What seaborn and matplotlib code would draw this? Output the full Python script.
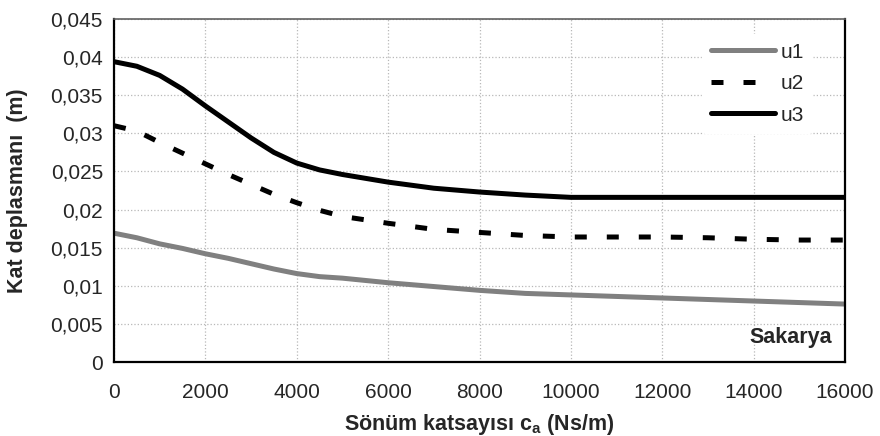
import matplotlib
matplotlib.use('Agg')
import matplotlib.pyplot as plt
from matplotlib.lines import Line2D
from matplotlib.ticker import FuncFormatter
import numpy as np
import pandas as pd
import seaborn as sns

# Values
damping = [0, 500, 1000, 1500, 2000, 2500, 3000, 3500, 4000, 4500, 5000,
           6000, 7000, 8000, 9000, 10000, 11000, 12000, 13000, 14000, 15000, 16000]
u1 = [0.0169, 0.0163, 0.0155, 0.0149, 0.0142, 0.0136, 0.0129, 0.0122, 0.0116,
      0.0112, 0.0110, 0.0104, 0.0099, 0.0094, 0.0090, 0.0088, 0.0086, 0.0084,
      0.0082, 0.0080, 0.0078, 0.0076]
u2 = [0.0310, 0.0303, 0.0288, 0.0274, 0.0260, 0.0246, 0.0233, 0.0220, 0.0209,
      0.0199, 0.0191, 0.0182, 0.0174, 0.0170, 0.0166, 0.0164, 0.0164, 0.0164,
      0.0163, 0.0161, 0.0160, 0.0160]
u3 = [0.0394, 0.0388, 0.0376, 0.0358, 0.0336, 0.0315, 0.0294, 0.0275, 0.0261,
      0.0252, 0.0246, 0.0236, 0.0228, 0.0223, 0.0219, 0.0216, 0.0216, 0.0216,
      0.0216, 0.0216, 0.0216, 0.0216]

df = pd.DataFrame({'c': damping, 'u1': u1, 'u2': u2, 'u3': u3})
long_df = df.melt(id_vars='c', var_name='seri', value_name='u')

sns.set_style('white')
plt.rcParams['font.family'] = ['Liberation Sans', 'DejaVu Sans']

fig = plt.figure(figsize=(8.8, 4.36), dpi=100)
ax = fig.add_axes([114 / 880, 74 / 436, 731 / 880, 343 / 436])

colors = {'u1': '#808080', 'u2': 'black', 'u3': 'black'}
dash = [2.4, 4.0]
sns.lineplot(data=long_df, x='c', y='u', hue='seri', palette=colors,
             linewidth=3.6, ax=ax, legend=False)
ax.lines[1].set_dashes(dash)

ax.set_xlim(0, 16000)
ax.set_ylim(0, 0.045)
ax.set_xticks(np.arange(0, 16001, 2000))
ax.set_yticks(np.arange(0, 0.0451, 0.005))
ax.yaxis.set_major_formatter(FuncFormatter(
    lambda v, p: '0' if abs(v) < 1e-9 else ('%g' % round(v, 4)).replace('.', ',')))
ax.tick_params(axis='both', labelsize=15, direction='out', length=5, width=1.2)
ax.tick_params(axis='y', color='#707070', pad=3)
ax.tick_params(axis='x', color='black', pad=10)

ax.grid(True, color='#b8b8b8', linestyle=':', linewidth=0.9)
for s in ['left', 'bottom', 'right']:
    ax.spines[s].set_color('black')
    ax.spines[s].set_linewidth(1.6)
ax.spines['top'].set_color('#606060')
ax.spines['top'].set_linewidth(1.2)

ax.set_xlabel('Sönüm katsayısı c$_\\mathregular{a}$ (Ns/m)', fontsize=15.5,
              fontweight='bold')
ax.set_ylabel('Kat deplasmanı  (m)', fontsize=15.5, fontweight='bold')
ax.xaxis.set_label_coords(0.5, -0.145)
ax.yaxis.set_label_coords(-0.118, 0.5)

handles = [Line2D([], [], color='#808080', lw=3.6),
           Line2D([], [], color='black', lw=3.6, dashes=dash),
           Line2D([], [], color='black', lw=3.6)]
leg = ax.legend(handles, ['u1', 'u2', 'u3'], loc='upper right',
                bbox_to_anchor=(0.955, 0.955), frameon=True, fontsize=15,
                handlelength=3.1, handletextpad=0.25, labelspacing=0.6,
                borderpad=0.4, borderaxespad=0)
leg.get_frame().set_edgecolor('white')
leg.get_frame().set_facecolor('white')
leg.get_frame().set_alpha(1)

ax.text(0.982, 0.07, 'Sakarya', transform=ax.transAxes, ha='right', va='center',
        fontsize=15.5, fontweight='bold')

fig.savefig('out.png', dpi=100)
